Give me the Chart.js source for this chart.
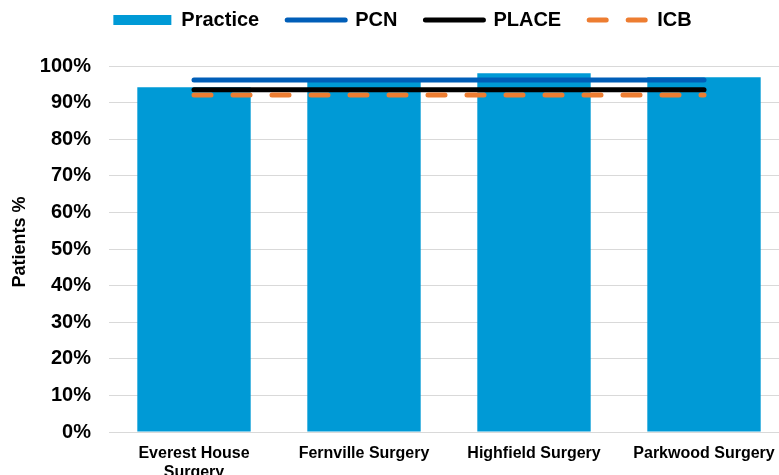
<!DOCTYPE html>
<html>
<head>
<meta charset="utf-8">
<script src="https://cdn.jsdelivr.net/npm/chart.js@4"></script>
<style>
  html, body { margin: 0; padding: 0; overflow: hidden; background: #fff; width: 779px; height: 475px; }
  canvas { display: block; }
</style>
</head>
<body>
<canvas id="c" width="800" height="500"></canvas>
<script>
const categories = [['Everest House', 'Surgery'], 'Fernville Surgery', 'Highfield Surgery', 'Parkwood Surgery'];
const practiceValues = [94.2, 96.0, 98.0, 96.9];
const pcnValues = [96.2, 96.2, 96.2, 96.2];
const placeValues = [93.5, 93.5, 93.5, 93.5];
const icbValues = [92.1, 92.1, 92.1, 92.1];
const yTicks = [0, 10, 20, 30, 40, 50, 60, 70, 80, 90, 100];

const FONT = "'Liberation Sans', Arial, sans-serif";

// Adds space below the legend and nudges it right to match the reference layout
const legendSpacer = {
  id: 'legendSpacer',
  beforeUpdate(chart) {
    const lg = chart.legend;
    if (lg && !lg._spacerPatched) {
      const origFit = lg.fit.bind(lg);
      lg.fit = function () { origFit(); this.height += 26; };
      const origDraw = lg.draw.bind(lg);
      lg.draw = function () {
        const ctx = this.ctx;
        ctx.save();
        ctx.translate(8, 0);
        origDraw();
        ctx.restore();
      };
      lg._spacerPatched = true;
    }
  }
};

new Chart(document.getElementById('c'), {
  data: {
    labels: categories,
    datasets: [
      {
        type: 'bar', label: 'Practice', data: practiceValues,
        backgroundColor: '#009ad6', borderWidth: 0,
        categoryPercentage: 1.0, barPercentage: 0.667, order: 4
      },
      {
        type: 'line', label: 'PCN', data: pcnValues,
        borderColor: '#005eb8', backgroundColor: '#005eb8', borderWidth: 5,
        borderCapStyle: 'round', pointRadius: 0, order: 3
      },
      {
        type: 'line', label: 'PLACE', data: placeValues,
        borderColor: '#000000', backgroundColor: '#000000', borderWidth: 5,
        borderCapStyle: 'round', pointRadius: 0, order: 2
      },
      {
        type: 'line', label: 'ICB', data: icbValues,
        borderColor: '#ed7d31', backgroundColor: '#ed7d31', borderWidth: 5,
        borderDash: [17, 22], borderCapStyle: 'round', pointRadius: 0, order: 1
      }
    ]
  },
  options: {
    responsive: false,
    animation: false,
    layout: { padding: { top: -18, right: 11, bottom: 0, left: 0 } },
    plugins: {
      tooltip: { enabled: false },
      legend: {
        position: 'top',
        labels: {
          usePointStyle: true,
          pointStyleWidth: 58,
          boxHeight: 10,
          padding: 28,
          color: '#000',
          font: { family: FONT, size: 20, weight: 'bold' },
          generateLabels(chart) {
            return chart.data.datasets.map((ds, i) => ({
              text: ds.label,
              fillStyle: ds.backgroundColor,
              strokeStyle: ds.type === 'line' ? ds.borderColor : ds.backgroundColor,
              lineWidth: ds.type === 'line' ? ds.borderWidth : 0,
              lineDash: ds.borderDash || [],
              lineCap: 'round',
              pointStyle: ds.type === 'line' ? 'line' : 'rect',
              fontColor: '#000',
              hidden: false,
              datasetIndex: i
            }));
          }
        }
      }
    },
    scales: {
      x: {
        grid: { display: false },
        border: { display: false },
        ticks: {
          color: '#000', padding: 4, maxRotation: 0, autoSkip: false,
          font: { family: FONT, size: 16, weight: 'bold' }
        },
        afterFit(scale) { scale.height = 68; }
      },
      y: {
        min: 0, max: 100,
        afterBuildTicks(scale) { scale.ticks = yTicks.map(v => ({ value: v })); },
        grid: { color: '#d9d9d9', lineWidth: 1, drawTicks: false },
        border: { display: false },
        ticks: {
          color: '#000', padding: 18,
          font: { family: FONT, size: 20, weight: 'bold' },
          callback: v => v + '%'
        },
        title: {
          display: true, text: 'Patients %', color: '#000',
          font: { family: FONT, size: 18, weight: 'bold' },
          padding: { top: 9, bottom: 0 }
        },
        afterFit(scale) {
          scale.width = 109;
          if (!scale._titlePatched) {
            const origTitle = scale.drawTitle.bind(scale);
            scale.drawTitle = function () {
              const ctx = this.ctx;
              ctx.save();
              ctx.translate(0, -7);
              origTitle();
              ctx.restore();
            };
            scale._titlePatched = true;
          }
        }
      }
    }
  },
  plugins: [legendSpacer]
});
</script>
</body>
</html>
